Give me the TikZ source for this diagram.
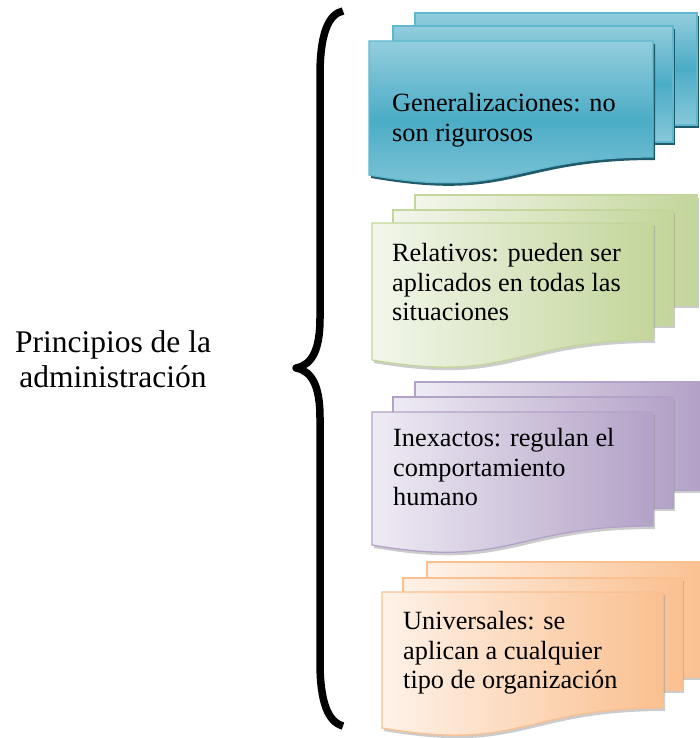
\documentclass[tikz,border=0pt]{standalone}
\usepackage{fontspec}
\setmainfont{Liberation Serif}
\usepackage{tikz}
\usetikzlibrary{shadows}
\definecolor{bluefill}{HTML}{4BACC6}
\definecolor{bluelight}{HTML}{93CDDD}
\definecolor{blueline}{HTML}{5DB8D0}
\definecolor{blueshadow}{HTML}{215A68}
\definecolor{greenfill}{HTML}{C3D69B}
\definecolor{greenlight}{HTML}{F2F6EB}
\definecolor{purplefill}{HTML}{B3A2C7}
\definecolor{purplelight}{HTML}{EFEBF4}
\definecolor{orangefill}{HTML}{FAC090}
\definecolor{orangelight}{HTML}{FEF2E8}
\tikzstyle{docblue}=[draw=blueline, line width=1.3pt, top color=bluelight, bottom color=bluelight!85!bluefill, middle color=bluefill, drop shadow={shadow xshift=2pt, shadow yshift=-3pt, fill=blueshadow, opacity=1}]
\tikzstyle{docgreen}=[draw=greenfill, line width=1.3pt, left color=greenlight, right color=greenfill, drop shadow={shadow xshift=2pt, shadow yshift=-3pt, fill=black!40, opacity=.5}]
\tikzstyle{docpurple}=[draw=purplefill, line width=1.3pt, left color=purplelight, right color=purplefill, drop shadow={shadow xshift=2pt, shadow yshift=-3pt, fill=black!40, opacity=.5}]
\tikzstyle{docorange}=[draw=orangefill, line width=1.3pt, left color=orangelight, right color=orangefill, drop shadow={shadow xshift=2pt, shadow yshift=-3pt, fill=black!40, opacity=.5}]
\tikzstyle{doctxt}=[anchor=north west, inner sep=0pt, align=left, font=\fontsize{26.3}{29.7}\selectfont]
\tikzstyle{titletxt}=[anchor=north, inner sep=0pt, align=center, font=\fontsize{31.5}{35.5}\selectfont]

\begin{document}
\begin{tikzpicture}[x=1pt, y=-1pt]
\useasboundingbox (0,0) rectangle (699,738);
%
\node[titletxt] (principios) at (113,330) {Principios de la\\administración};
\draw[line width=7.5pt, line join=round] (343,11) .. controls (328,14) and (320,35) .. (320,75) -- (320,318) .. controls (320,350) and (312,365) .. (296,368) .. controls (312,371) and (320,386) .. (320,418) -- (320,662) .. controls (320,702) and (328,722) .. (343,726);
%
\begin{scope}[shift={(369,41)}]
\path[docblue] (46,-28) rectangle (328,84);
\path[docblue] (24,-15) rectangle (304,101);
\path[docblue] (0,0) -- (284,0) -- (284,116) .. controls (142,116) and (142,159) .. (0,134) -- cycle;
\node[doctxt] (gen) at (23,52) {Generalizaciones: no\\son rigurosos};
\end{scope}
%
\begin{scope}[shift={(372,223)}]
\path[docgreen] (43,-28) rectangle (325,82);
\path[docgreen] (21,-13) rectangle (301,102);
\path[docgreen] (0,0) -- (281,0) -- (281,117) .. controls (140,117) and (140,161) .. (0,137) -- cycle;
\node[doctxt] (rel) at (20,20) {Relativos: pueden ser\\aplicados en todas las\\situaciones};
\end{scope}
%
\begin{scope}[shift={(372,412)}]
\path[docpurple] (43,-30) rectangle (327,78);
\path[docpurple] (21,-15) rectangle (301,96);
\path[docpurple] (0,0) -- (281,0) -- (281,114) .. controls (140,114) and (140,157) .. (0,133) -- cycle;
\node[doctxt] (inex) at (21,16) {Inexactos: regulan el\\comportamiento\\humano};
\end{scope}
%
\begin{scope}[shift={(382,592)}]
\path[docorange] (45,-30) rectangle (327,85);
\path[docorange] (21,-14) rectangle (300,98);
\path[docorange] (0,0) -- (281,0) -- (281,116) .. controls (140,116) and (140,160) .. (0,136) -- cycle;
\node[doctxt] (univ) at (21,19) {Universales: se\\aplican a cualquier\\tipo de organización};
\end{scope}
\end{tikzpicture}
\end{document}
